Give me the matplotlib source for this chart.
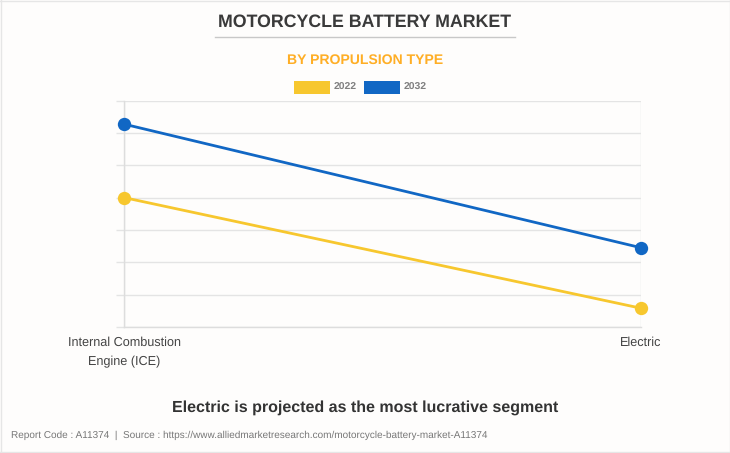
import matplotlib
matplotlib.use("Agg")
import matplotlib.pyplot as plt
from matplotlib.patches import Rectangle
from matplotlib.lines import Line2D

plt.rcParams['font.family'] = ['Liberation Sans', 'DejaVu Sans']
plt.rcParams['text.hinting'] = 'no_hinting'
plt.rcParams['text.hinting_factor'] = 8

categories = ["Internal Combustion\nEngine (ICE)", "Electric"]
series_names = ["2022", "2032"]
values_2022 = [4.0, 0.58]
values_2032 = [6.27, 2.45]
yticks = [0, 1, 2, 3, 4, 5, 6, 7]
colors = ["#F7C72E", "#1167C4"]

W, H = 730, 453
BG = "#FEFDFC"
GRID = "#E4E4E4"
fig = plt.figure(figsize=(W / 100, H / 100), dpi=100, facecolor=BG)

def fx(x): return x / W
def fy(y): return 1 - y / H

L, R, T, B = 124, 641, 100.5, 327
ax = fig.add_axes([fx(L), fy(B), (R - L) / W, (B - T) / H], facecolor=BG)
ax.set_xlim(0, 1)
ax.set_ylim(0, 7)
x = list(range(len(categories)))
for vals, c, name in zip([values_2022, values_2032], colors, series_names):
    ax.plot(x, vals, color=c, lw=2.0, marker='o', ms=9.6, mew=0, clip_on=False,
            zorder=3, label=name, solid_capstyle='round')
ax.set_yticks(yticks)
ax.set_yticklabels([])
ax.set_xticks(x)
ax.set_xticklabels(categories, fontsize=9.05, color="#444444", linespacing=1.75)
ax.tick_params(axis='y', length=6, width=1, color=GRID)
ax.tick_params(axis='x', length=0, pad=7)
ax.grid(axis='y', color=GRID, lw=1, zorder=0)
ax.grid(axis='x', color=GRID, lw=1, zorder=0)
for s in ['top', 'right']:
    ax.spines[s].set_visible(False)
for s in ['left', 'bottom']:
    ax.spines[s].set_color("#DDDDDD")
    ax.spines[s].set_linewidth(1)

fig.text(fx(365), fy(22), "MOTORCYCLE BATTERY MARKET", ha='center', va='center',
         fontsize=12.75, fontweight='bold', color="#3A3A3A")
fig.add_artist(Line2D([fx(215), fx(515)], [fy(37.2)] * 2, color="#C8C8C8", lw=1))
fig.text(fx(365), fy(60), "BY PROPULSION TYPE", ha='center', va='center',
         fontsize=10.05, fontweight='bold', color="#FFAE25")

for rx, c, name, tx in zip([294, 364], colors, series_names, [334, 404]):
    fig.add_artist(Rectangle((fx(rx), fy(93.5)), 36 / W, 12.5 / H, transform=fig.transFigure,
                             facecolor=c, edgecolor='none'))
    fig.text(fx(tx), fy(87.6), name, ha='left', va='center', fontsize=7.5,
             fontweight='bold', color="#808080")

fig.text(fx(365), fy(407.5), "Electric is projected as the most lucrative segment",
         ha='center', va='center', fontsize=11.5, fontweight='bold', color="#333333")
fig.text(fx(11), fy(435), "Report Code : A11374  |  Source : https://www.alliedmarketresearch.com/motorcycle-battery-market-A11374",
         ha='left', va='center', fontsize=7.18, color="#777777")

for coords in [([0, 1], [fy(0.5)] * 2), ([0, 1], [fy(451.5)] * 2),
               ([fx(0.5)] * 2, [fy(0), fy(452)]), ([fx(729.5)] * 2, [fy(0), fy(452)])]:
    fig.add_artist(Line2D(coords[0], coords[1], color="#E6E6E6", lw=1))

fig.savefig("out.png", dpi=100, facecolor=BG)
